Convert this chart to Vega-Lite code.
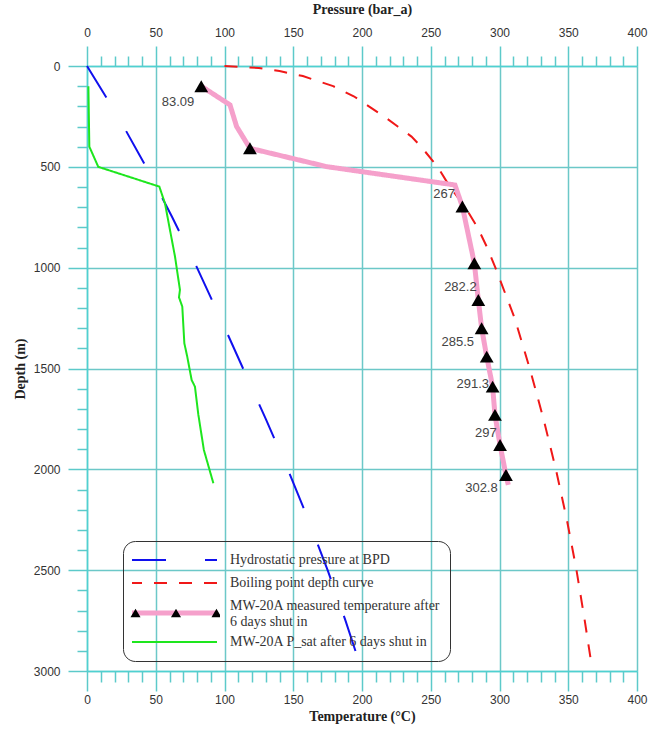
{
  "$schema": "https://vega.github.io/schema/vega-lite/v6.json",
  "width": 550,
  "height": 605,
  "autosize": {"type": "none"},
  "padding": {"left": 87, "top": 66, "right": 14, "bottom": 67},
  "background": "white",
  "config": {
    "view": {"stroke": null},
    "axis": {
      "domainColor": "#4fd1d1", "domainWidth": 1.5,
      "tickColor": "#5ccaca", "tickWidth": 1.5,
      "gridColor": "#6cc8c8", "gridWidth": 1.5, "gridOpacity": 1,
      "labelFont": "Liberation Sans", "labelFontSize": 12, "labelColor": "#333333",
      "titleFont": "Liberation Serif", "titleFontSize": 14, "titleFontWeight": "bold", "titleColor": "#222222",
      "labelFlush": false, "labelOverlap": false
    }
  },
  "datasets": {
    "lines": [
      {"series": "Hydrostatic pressure at BPD", "x": 0, "depth": 0},
      {"series": "Hydrostatic pressure at BPD", "x": 22.5, "depth": 250},
      {"series": "Hydrostatic pressure at BPD", "x": 43, "depth": 500},
      {"series": "Hydrostatic pressure at BPD", "x": 62, "depth": 750},
      {"series": "Hydrostatic pressure at BPD", "x": 80, "depth": 1000},
      {"series": "Hydrostatic pressure at BPD", "x": 97, "depth": 1250},
      {"series": "Hydrostatic pressure at BPD", "x": 113.5, "depth": 1500},
      {"series": "Hydrostatic pressure at BPD", "x": 130, "depth": 1750},
      {"series": "Hydrostatic pressure at BPD", "x": 146, "depth": 2000},
      {"series": "Hydrostatic pressure at BPD", "x": 161, "depth": 2250},
      {"series": "Hydrostatic pressure at BPD", "x": 175, "depth": 2500},
      {"series": "Hydrostatic pressure at BPD", "x": 188, "depth": 2750},
      {"series": "Hydrostatic pressure at BPD", "x": 200, "depth": 3000},
      {"series": "Boiling point depth curve", "x": 100, "depth": 0},
      {"series": "Boiling point depth curve", "x": 125, "depth": 10},
      {"series": "Boiling point depth curve", "x": 140, "depth": 25},
      {"series": "Boiling point depth curve", "x": 157, "depth": 50},
      {"series": "Boiling point depth curve", "x": 179, "depth": 100},
      {"series": "Boiling point depth curve", "x": 194, "depth": 150},
      {"series": "Boiling point depth curve", "x": 205, "depth": 200},
      {"series": "Boiling point depth curve", "x": 216, "depth": 250},
      {"series": "Boiling point depth curve", "x": 226, "depth": 300},
      {"series": "Boiling point depth curve", "x": 236, "depth": 350},
      {"series": "Boiling point depth curve", "x": 243, "depth": 400},
      {"series": "Boiling point depth curve", "x": 255, "depth": 500},
      {"series": "Boiling point depth curve", "x": 264, "depth": 600},
      {"series": "Boiling point depth curve", "x": 275, "depth": 700},
      {"series": "Boiling point depth curve", "x": 284, "depth": 800},
      {"series": "Boiling point depth curve", "x": 291, "depth": 900},
      {"series": "Boiling point depth curve", "x": 297, "depth": 1000},
      {"series": "Boiling point depth curve", "x": 311, "depth": 1250},
      {"series": "Boiling point depth curve", "x": 322, "depth": 1500},
      {"series": "Boiling point depth curve", "x": 332, "depth": 1750},
      {"series": "Boiling point depth curve", "x": 341, "depth": 2000},
      {"series": "Boiling point depth curve", "x": 349, "depth": 2250},
      {"series": "Boiling point depth curve", "x": 356, "depth": 2500},
      {"series": "Boiling point depth curve", "x": 362, "depth": 2750},
      {"series": "Boiling point depth curve", "x": 366.5, "depth": 2950},
      {"series": "MW-20A measured temperature after 6 days shut in", "x": 83.09, "depth": 100},
      {"series": "MW-20A measured temperature after 6 days shut in", "x": 104, "depth": 193},
      {"series": "MW-20A measured temperature after 6 days shut in", "x": 108.8, "depth": 300},
      {"series": "MW-20A measured temperature after 6 days shut in", "x": 118.5, "depth": 408},
      {"series": "MW-20A measured temperature after 6 days shut in", "x": 174.3, "depth": 499},
      {"series": "MW-20A measured temperature after 6 days shut in", "x": 267.6, "depth": 590},
      {"series": "MW-20A measured temperature after 6 days shut in", "x": 273, "depth": 697},
      {"series": "MW-20A measured temperature after 6 days shut in", "x": 281.7, "depth": 978},
      {"series": "MW-20A measured temperature after 6 days shut in", "x": 284.6, "depth": 1160},
      {"series": "MW-20A measured temperature after 6 days shut in", "x": 287, "depth": 1300},
      {"series": "MW-20A measured temperature after 6 days shut in", "x": 290.7, "depth": 1441},
      {"series": "MW-20A measured temperature after 6 days shut in", "x": 295, "depth": 1590},
      {"series": "MW-20A measured temperature after 6 days shut in", "x": 296.7, "depth": 1730},
      {"series": "MW-20A measured temperature after 6 days shut in", "x": 300.4, "depth": 1879},
      {"series": "MW-20A measured temperature after 6 days shut in", "x": 304.7, "depth": 2028},
      {"series": "MW-20A measured temperature after 6 days shut in", "x": 306.4, "depth": 2077},
      {"series": "MW-20A P_sat after 6 days shut in", "x": 1.0, "depth": 100},
      {"series": "MW-20A P_sat after 6 days shut in", "x": 1.7, "depth": 400},
      {"series": "MW-20A P_sat after 6 days shut in", "x": 8.2, "depth": 500},
      {"series": "MW-20A P_sat after 6 days shut in", "x": 52.6, "depth": 598},
      {"series": "MW-20A P_sat after 6 days shut in", "x": 56.7, "depth": 681},
      {"series": "MW-20A P_sat after 6 days shut in", "x": 64, "depth": 945},
      {"series": "MW-20A P_sat after 6 days shut in", "x": 67.6, "depth": 1110},
      {"series": "MW-20A P_sat after 6 days shut in", "x": 66.9, "depth": 1147},
      {"series": "MW-20A P_sat after 6 days shut in", "x": 69.3, "depth": 1193},
      {"series": "MW-20A P_sat after 6 days shut in", "x": 70.8, "depth": 1375},
      {"series": "MW-20A P_sat after 6 days shut in", "x": 72.9, "depth": 1441},
      {"series": "MW-20A P_sat after 6 days shut in", "x": 76.1, "depth": 1557},
      {"series": "MW-20A P_sat after 6 days shut in", "x": 78.5, "depth": 1590},
      {"series": "MW-20A P_sat after 6 days shut in", "x": 81, "depth": 1730},
      {"series": "MW-20A P_sat after 6 days shut in", "x": 85, "depth": 1904},
      {"series": "MW-20A P_sat after 6 days shut in", "x": 91.9, "depth": 2069}
    ],
    "markers": [
      {"x": 83.09, "depth": 100},
      {"x": 118.5, "depth": 408},
      {"x": 273, "depth": 697},
      {"x": 281.7, "depth": 978},
      {"x": 284.6, "depth": 1160},
      {"x": 287, "depth": 1300},
      {"x": 290.7, "depth": 1441},
      {"x": 295, "depth": 1590},
      {"x": 296.7, "depth": 1730},
      {"x": 300.4, "depth": 1879},
      {"x": 304.7, "depth": 2028}
    ],
    "labels": [
      {"label": "83.09", "x": 78, "depth": 177},
      {"label": "267", "x": 267.6, "depth": 635},
      {"label": "282.2", "x": 283.4, "depth": 1094},
      {"label": "285.5", "x": 281.5, "depth": 1367},
      {"label": "291.3", "x": 292.4, "depth": 1577},
      {"label": "297", "x": 298, "depth": 1818},
      {"label": "302.8", "x": 298.7, "depth": 2094}
    ]
  },
  "encoding": {
    "x": {"field": "x", "type": "quantitative", "scale": {"domain": [0, 400], "nice": false, "zero": false}, "axis": null},
    "y": {"field": "depth", "type": "quantitative", "scale": {"domain": [0, 3000], "nice": false, "zero": false, "reverse": true}, "axis": null}
  },
  "layer": [
    {
      "data": {"name": "lines"},
      "transform": [{"filter": "datum.series == 'Hydrostatic pressure at BPD'"}],
      "mark": {"type": "line"},
      "encoding": {
        "x": {"field": "x", "type": "quantitative", "scale": {"domain": [0, 400], "nice": false, "zero": false},
          "axis": {"orient": "bottom", "values": [0, 50, 100, 150, 200, 250, 300, 350, 400], "title": "Temperature (°C)", "grid": true, "tickSize": 20, "labelPadding": 3, "titlePadding": 4}},
        "y": {"field": "depth", "type": "quantitative", "scale": {"domain": [0, 3000], "nice": false, "zero": false, "reverse": true},
          "axis": {"orient": "left", "values": [0, 500, 1000, 1500, 2000, 2500, 3000], "format": "d", "title": "Depth (m)", "grid": true, "tickSize": 19, "labelPadding": 8, "titlePadding": 6}},
        "order": {"field": "depth", "type": "quantitative"},
        "strokeWidth": {"value": 2},
        "stroke": {"field": "series", "type": "nominal",
          "scale": {"domain": ["Hydrostatic pressure at BPD", "Boiling point depth curve", "MW-20A measured temperature after 6 days shut in", "MW-20A P_sat after 6 days shut in"], "range": ["#1010ee", "#f01818", "#f5a0cb", "#1ee61e"]},
          "legend": {"orient": "none", "legendX": 36, "legendY": 475, "title": null, "strokeColor": "#333333", "cornerRadius": 12, "padding": 9,
            "symbolType": {"expr": "datum.value == 'MW-20A measured temperature after 6 days shut in' ? 'M-1,0.16H1' : 'stroke'"},
            "symbolSize": 7744, "symbolOffset": 34,
            "symbolStrokeWidth": {"expr": "datum.value == 'MW-20A measured temperature after 6 days shut in' ? 5 : 2"},
            "clipHeight": 20, "rowPadding": 3, "labelOffset": 50, "labelFont": "Liberation Serif", "labelFontSize": 14, "labelColor": "#333333", "labelLimit": 400,
            "labelExpr": "datum.label == 'MW-20A measured temperature after 6 days shut in' ? ['MW-20A measured temperature after', '6 days shut in'] : datum.label"}},
        "strokeDash": {"field": "series", "type": "nominal",
          "scale": {"domain": ["Hydrostatic pressure at BPD", "Boiling point depth curve", "MW-20A measured temperature after 6 days shut in", "MW-20A P_sat after 6 days shut in"], "range": [[37, 39], [13, 12], [1, 0], [1, 0]]},
          "legend": {"orient": "none", "legendX": 36, "legendY": 475, "title": null, "strokeColor": "#333333", "cornerRadius": 12, "padding": 9,
            "symbolType": {"expr": "datum.value == 'MW-20A measured temperature after 6 days shut in' ? 'M-1,0.16H1' : 'stroke'"},
            "symbolSize": 7744, "symbolOffset": 34,
            "symbolStrokeWidth": {"expr": "datum.value == 'MW-20A measured temperature after 6 days shut in' ? 5 : 2"},
            "clipHeight": 20, "rowPadding": 3, "labelOffset": 50, "labelFont": "Liberation Serif", "labelFontSize": 14, "labelColor": "#333333", "labelLimit": 400,
            "labelExpr": "datum.label == 'MW-20A measured temperature after 6 days shut in' ? ['MW-20A measured temperature after', '6 days shut in'] : datum.label"}}
      }
    },
    {
      "data": {"name": "lines"},
      "transform": [{"filter": "datum.series == 'Boiling point depth curve'"}],
      "mark": {"type": "line"},
      "encoding": {
        "x": {"field": "x", "type": "quantitative", "scale": {"domain": [0, 400], "nice": false, "zero": false},
          "axis": {"orient": "top", "values": [0, 50, 100, 150, 200, 250, 300, 350, 400], "title": "Pressure (bar_a)", "grid": false, "tickSize": 20, "labelPadding": 7, "titlePadding": 10}},
        "y": {"field": "depth", "type": "quantitative", "scale": {"domain": [0, 3000], "nice": false, "zero": false, "reverse": true},
          "axis": {"orient": "left", "values": [100, 200, 300, 400, 600, 700, 800, 900, 1100, 1200, 1300, 1400, 1600, 1700, 1800, 1900, 2100, 2200, 2300, 2400, 2600, 2700, 2800, 2900], "labels": false, "title": null, "grid": false, "domain": false, "tickSize": 10}},
        "order": {"field": "depth", "type": "quantitative"},
        "strokeWidth": {"value": 2},
        "stroke": {"field": "series", "type": "nominal"},
        "strokeDash": {"field": "series", "type": "nominal"}
      }
    },
    {
      "data": {"name": "lines"},
      "transform": [{"filter": "datum.series == 'MW-20A measured temperature after 6 days shut in'"}],
      "mark": {"type": "line"},
      "encoding": {
        "x": {"field": "x", "type": "quantitative", "scale": {"domain": [0, 400], "nice": false, "zero": false},
          "axis": {"orient": "bottom", "values": [10, 20, 30, 40, 60, 70, 80, 90, 110, 120, 130, 140, 160, 170, 180, 190, 210, 220, 230, 240, 260, 270, 280, 290, 310, 320, 330, 340, 360, 370, 380, 390], "labels": false, "title": null, "grid": false, "domain": false, "tickSize": 11}},
        "order": {"field": "depth", "type": "quantitative"},
        "strokeWidth": {"value": 5},
        "stroke": {"field": "series", "type": "nominal"},
        "strokeDash": {"field": "series", "type": "nominal"}
      }
    },
    {
      "data": {"name": "lines"},
      "transform": [{"filter": "datum.series == 'MW-20A P_sat after 6 days shut in'"}],
      "mark": {"type": "line"},
      "encoding": {
        "x": {"field": "x", "type": "quantitative", "scale": {"domain": [0, 400], "nice": false, "zero": false},
          "axis": {"orient": "top", "values": [10, 20, 30, 40, 60, 70, 80, 90, 110, 120, 130, 140, 160, 170, 180, 190, 210, 220, 230, 240, 260, 270, 280, 290, 310, 320, 330, 340, 360, 370, 380, 390], "labels": false, "title": null, "grid": false, "domain": false, "tickSize": 10}},
        "order": {"field": "depth", "type": "quantitative"},
        "strokeWidth": {"value": 2},
        "stroke": {"field": "series", "type": "nominal"},
        "strokeDash": {"field": "series", "type": "nominal"}
      }
    },
    {
      "data": {"name": "markers"},
      "mark": {"type": "point", "filled": true, "size": 190, "opacity": 1},
      "encoding": {
        "shape": {"datum": "tri", "type": "nominal", "scale": {"domain": ["tri"], "range": ["triangle-up"]}, "legend": null},
        "fill": {"datum": "MW-20A markers", "type": "nominal", "scale": {"domain": ["MW-20A markers"], "range": ["#000000"]},
          "legend": {"orient": "none", "legendX": 40, "legendY": 537, "title": null, "padding": 0,
            "symbolType": "M-1.034,0.098L-0.92,-0.098L-0.806,0.098Z M-0.114,0.098L0,-0.098L0.114,0.098Z M0.806,0.098L0.92,-0.098L1.034,0.098Z",
            "symbolSize": 7744, "symbolOffset": 5, "symbolStrokeWidth": 0, "clipHeight": 20, "labelExpr": "''", "labelOffset": 0}}
      }
    },
    {
      "data": {"name": "labels"},
      "mark": {"type": "text", "align": "right", "baseline": "middle", "font": "Liberation Sans", "fontSize": 13, "color": "#444444"},
      "encoding": {
        "text": {"field": "label", "type": "nominal"}
      }
    }
  ],
  "resolve": {"axis": {"x": "independent", "y": "independent"}}
}
